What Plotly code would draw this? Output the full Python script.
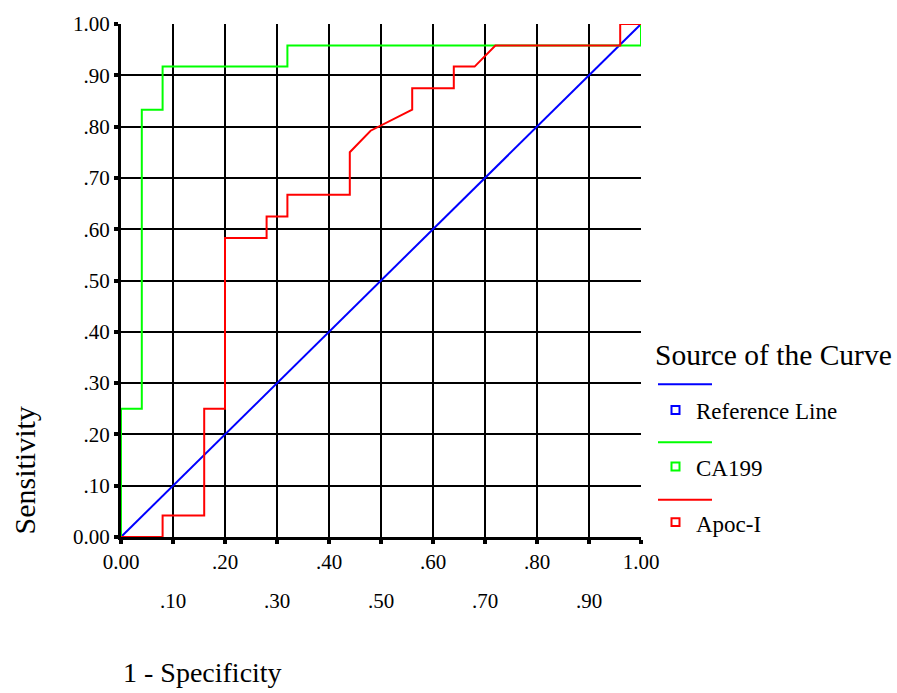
import plotly.graph_objects as go

# ---- data ----
ref_x = [0.0, 1.0]
ref_y = [0.0, 1.0]

ca199_x = [0.0, 0.0, 0.04, 0.04, 0.08, 0.08, 0.32, 0.32, 1.0, 1.0]
ca199_y = [0.0, 0.25, 0.25, 0.833, 0.833, 0.917, 0.917, 0.958, 0.958, 1.0]

apoc_x = [0.0, 0.08, 0.08, 0.16, 0.16, 0.20, 0.20, 0.28, 0.28, 0.32, 0.32, 0.44, 0.44,
          0.48, 0.56, 0.56, 0.64, 0.64, 0.68, 0.72, 0.96, 0.96, 1.0]
apoc_y = [0.0, 0.0, 0.042, 0.042, 0.25, 0.25, 0.583, 0.583, 0.625, 0.625, 0.667, 0.667, 0.75,
          0.792, 0.833, 0.875, 0.875, 0.917, 0.917, 0.958, 0.958, 1.0, 1.0]

tick_vals = [0.0, 0.1, 0.2, 0.3, 0.4, 0.5, 0.6, 0.7, 0.8, 0.9, 1.0]
tick_text = ["0.00", ".10", ".20", ".30", ".40", ".50", ".60", ".70", ".80", ".90", "1.00"]

series_names = ["Reference Line", "CA199", "Apoc-I"]
series_colors = ["#0000FF", "#00FF00", "#FF0000"]

FONT = "Liberation Serif"
W, H = 897, 693
L, R, T, B = 121, 641, 20, 537


def px(p):
    return (p - L) / (R - L)


def py(q):
    return (B - q) / (B - T)


fig = go.Figure()
for xs, ys, name, col in [(ref_x, ref_y, series_names[0], series_colors[0]),
                          (ca199_x, ca199_y, series_names[1], series_colors[1]),
                          (apoc_x, apoc_y, series_names[2], series_colors[2])]:
    fig.add_trace(go.Scatter(x=xs, y=ys, mode="lines", name=name,
                             line=dict(color=col, width=2), showlegend=False,
                             hoverinfo="skip"))

# x tick labels: even ones on the axis, odd ones on a second row
x_ticktext = [t if i % 2 == 0 else "" for i, t in enumerate(tick_text)]

annotations = []
for i, (v, t) in enumerate(zip(tick_vals, tick_text)):
    if i % 2 == 1:
        annotations.append(dict(x=v, y=0, xref="x", yref="paper", text=t, showarrow=False,
                                yshift=-64, yanchor="middle", xanchor="center",
                                font=dict(family=FONT, size=21, color="black")))

annotations.append(dict(x=px(25), y=py(470), xref="paper", yref="paper", text="Sensitivity",
                        textangle=-90, showarrow=False, xanchor="center", yanchor="middle",
                        font=dict(family=FONT, size=30, color="black")))
annotations.append(dict(x=px(121), y=py(674), xref="paper", yref="paper", text="1 - Specificity",
                        showarrow=False, xanchor="left", yanchor="middle",
                        font=dict(family=FONT, size=28, color="black")))

# legend (manual)
annotations.append(dict(x=px(653), y=py(354), xref="paper", yref="paper", text="Source of the Curve",
                        showarrow=False, xanchor="left", yanchor="middle",
                        font=dict(family=FONT, size=29.5, color="black")))
shapes = []
line_y = [383, 441.5, 499.5]
sq_y = [409, 466, 522]
for i, (name, col) in enumerate(zip(series_names, series_colors)):
    shapes.append(dict(type="line", xref="paper", yref="paper", x0=px(658), x1=px(712),
                       y0=py(line_y[i]), y1=py(line_y[i]), line=dict(color=col, width=2)))
    shapes.append(dict(type="rect", xref="paper", yref="paper", x0=px(671.5), x1=px(679.5),
                       y0=py(sq_y[i] + 4), y1=py(sq_y[i] - 4), line=dict(color=col, width=2),
                       fillcolor="rgba(0,0,0,0)"))
    annotations.append(dict(x=px(694), y=py(sq_y[i] + 2), xref="paper", yref="paper", text=name,
                            showarrow=False, xanchor="left", yanchor="middle",
                            font=dict(family=FONT, size=23, color="black")))

axis_common = dict(range=[0, 1], tickvals=tick_vals, showgrid=True, gridcolor="black", gridwidth=2,
                   showline=True, linecolor="black", linewidth=3, ticks="outside", ticklen=4,
                   tickwidth=4, tickcolor="black", zeroline=False, fixedrange=True,
                   tickfont=dict(family=FONT, size=21, color="black"))

fig.update_layout(
    width=W, height=H,
    margin=dict(l=L, r=W - R, t=T, b=H - B),
    paper_bgcolor="white", plot_bgcolor="white",
    xaxis=dict(axis_common, ticktext=x_ticktext),
    yaxis=dict(axis_common, ticktext=tick_text),
    annotations=annotations, shapes=shapes,
    showlegend=False,
)

fig.write_html("out.html", config={"displayModeBar": False},
               post_script="document.body.style.margin='0';document.body.style.overflow='hidden';")
